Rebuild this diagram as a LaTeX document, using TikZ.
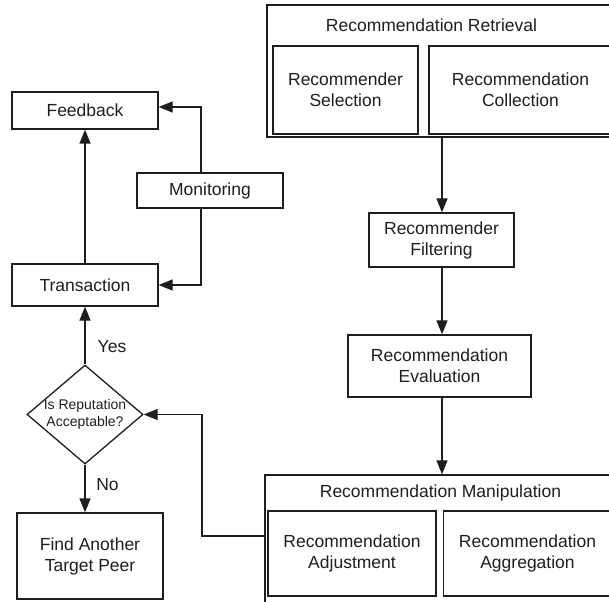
\documentclass[tikz,border=0pt]{standalone}
\usepackage{fontspec}
\setmainfont{Liberation Sans}
\usetikzlibrary{arrows.meta,shapes.geometric}
\definecolor{ink}{RGB}{30,30,30}
\begin{document}
\begin{tikzpicture}[x=1pt,y=-1pt,
  every node/.style={font=\fontsize{17.5}{21}\selectfont, text=ink},
  box/.style={draw=ink, line width=1.3pt, inner sep=0pt, align=center},
  arr/.style={draw=ink, line width=1.3pt, -{Triangle[length=14pt,width=11pt]}},
  small/.style={font=\fontsize{14}{17}\selectfont, align=center, inner sep=0pt}]
\useasboundingbox (0,0) rectangle (609,601);
\clip (0,0) rectangle (609,601);
% left column
\node[box, minimum width=146pt, minimum height=37pt] (fb) at (85,110.5) {Feedback};
\node[box, minimum width=146pt, minimum height=35pt] (mon) at (210,190.5) {Monitoring};
\node[box, minimum width=146pt, minimum height=42pt] (tr) at (85,285) {Transaction};
\node[draw=ink, diamond, line width=1.3pt, minimum width=116pt, minimum height=99pt, inner sep=0pt] (dec) at (85,414.5) {};
\node[small] (dect) at (dec.center) {Is Reputation\\Acceptable?};
\node[box, minimum width=146pt, minimum height=86pt] (find) at (90,556) {Find Another\\Target Peer};
\node (yes) at (112,347) {Yes};
\node (no) at (107.5,485) {No};
% right column
\node[box, minimum width=350pt, minimum height=132pt] (ret) at (442,71) {};
\node (rett) at (431.5,25) {Recommendation Retrieval};
\node[box, minimum width=145pt, minimum height=88pt] (sel) at (345.5,90) {Recommender\\Selection};
\node[box, minimum width=183pt, minimum height=88pt] (col) at (520.5,90) {Recommendation\\Collection};
\node[box, minimum width=145pt, minimum height=54pt] (filt) at (441.5,240) {Recommender\\Filtering};
\node[box, minimum width=183pt, minimum height=62pt] (eval) at (439.5,366) {Recommendation\\Evaluation};
\node[box, minimum width=350pt, minimum height=130pt] (man) at (440,540) {};
\node (mant) at (440.5,493) {Recommendation Manipulation};
\node[box, minimum width=168pt, minimum height=85pt] (adj) at (352,553.5) {Recommendation\\Adjustment};
\node[box, minimum width=168pt, minimum height=85pt] (agg) at (527.5,553.5) {Recommendation\\Aggregation};
% helper coordinates
\coordinate (mx) at (201,0);
\coordinate (cx) at (442,0);
\coordinate (mj) at (202,536);
% connectors
\draw[arr] (tr.north) -- (fb.south);
\draw[arr] (mon.north -| mx) |- ([yshift=3.5pt]fb.east);
\draw[arr] (mon.south -| mx) |- (tr.east);
\draw[arr] (dec.north) -- (tr.south);
\draw[arr] (dec.south) -- (dec.south |- find.north);
\draw[arr] (man.west |- mj) -- (mj) |- (dec.east);
\draw[arr] (ret.south -| cx) -- (filt.north -| cx);
\draw[arr] (filt.south -| cx) -- (eval.north -| cx);
\draw[arr] (eval.south -| cx) -- (man.north -| cx);
\end{tikzpicture}
\end{document}
